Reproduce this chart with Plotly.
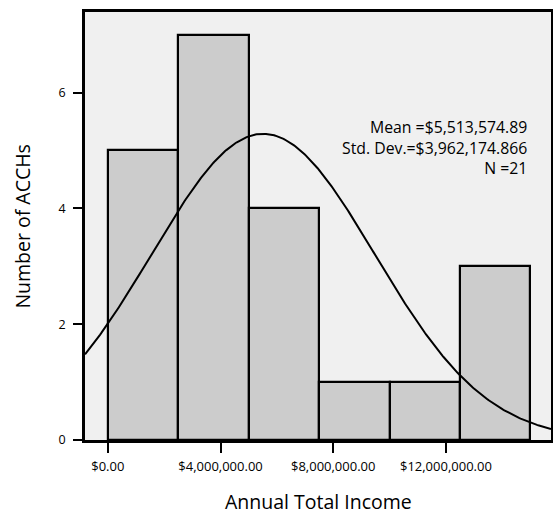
import numpy as np
import plotly.graph_objects as go

bin_starts = [0, 2500000, 5000000, 7500000, 10000000, 12500000]
bin_width = 2500000
counts = [5, 7, 4, 1, 1, 3]
mean = 5513574.89
sd = 3962174.866
n = 21
x_tickvals = [0, 4000000, 8000000, 12000000]
x_ticktext = ["$0.00", "$4,000,000.00", "$8,000,000.00", "$12,000,000.00"]
y_tickvals = [0, 2, 4, 6]

x_range = [-810000, 15730000]
y_range = [0, 7.39]

centers = [s + bin_width / 2 for s in bin_starts]
xs = np.linspace(x_range[0], x_range[1], 400)
ys = n * bin_width / (sd * np.sqrt(2 * np.pi)) * np.exp(-0.5 * ((xs - mean) / sd) ** 2)

font = "'Open Sans', sans-serif"

fig = go.Figure()
fig.add_trace(go.Bar(x=centers, y=counts, width=[bin_width] * len(counts),
                     marker=dict(color="#cccccc", line=dict(color="black", width=2.2)),
                     hoverinfo="skip"))
fig.add_trace(go.Scatter(x=xs, y=ys, mode="lines", line=dict(color="black", width=2),
                         hoverinfo="skip"))

fig.add_annotation(x=0.952, y=0.6826, xref="paper", yref="paper",
                   xanchor="right", yanchor="middle", align="right", showarrow=False,
                   text=f"Mean =${mean:,.2f}<br>Std. Dev.=${sd:,.3f}<br>N ={n}",
                   font=dict(family=font, size=15.8, color="black"))
fig.add_annotation(x=0.5, y=-0.1435, xref="paper", yref="paper",
                   xanchor="center", yanchor="middle", showarrow=False,
                   text="Annual Total Income", font=dict(family=font, size=19.5, color="black"))
fig.add_annotation(x=-0.136, y=0.5, xref="paper", yref="paper", textangle=-90,
                   xanchor="center", yanchor="middle", showarrow=False,
                   text="Number of ACCHs", font=dict(family=font, size=19.5, color="black"))

fig.update_layout(
    width=553, height=516,
    margin=dict(l=84.5, r=2, t=12, b=75.5, autoexpand=False),
    paper_bgcolor="white", plot_bgcolor="#f0f0f0",
    showlegend=False, bargap=0,
    font=dict(family=font, color="black"),
)
fig.update_xaxes(range=x_range, tickvals=x_tickvals, ticktext=x_ticktext, automargin=False,
                 ticks="outside", ticklen=10, tickwidth=2, tickcolor="black",
                 ticklabelstandoff=3,
                 showline=True, linecolor="black", linewidth=2.5, mirror=True,
                 showgrid=False, zeroline=False, tickfont=dict(size=13))
fig.update_yaxes(range=y_range, tickvals=y_tickvals, automargin=False,
                 ticks="outside", ticklen=9, tickwidth=2, tickcolor="black",
                 ticklabelstandoff=5,
                 showline=True, linecolor="black", linewidth=2.5, mirror=True,
                 showgrid=False, zeroline=False, tickfont=dict(size=12.5))

fig.write_html("out.html", config={"displayModeBar": False},
               post_script="document.body.style.margin='0';document.body.style.overflow='hidden';")
